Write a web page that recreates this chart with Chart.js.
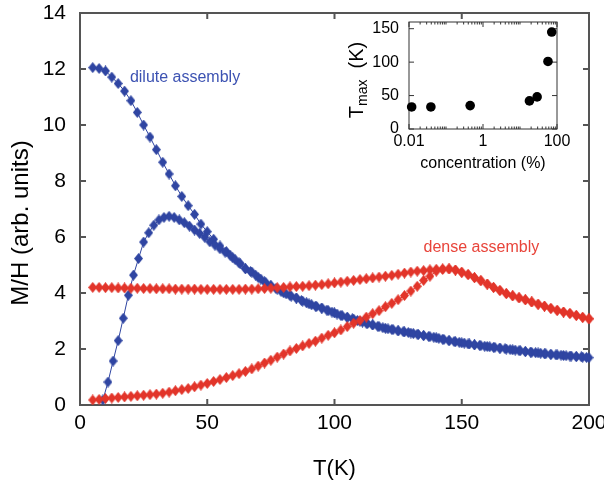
<!DOCTYPE html>
<html>
<head>
<meta charset="utf-8">
<script src="https://cdn.jsdelivr.net/npm/chart.js@4.4.1/dist/chart.umd.min.js"></script>
<style>
  body { margin: 0; background: #fff; }
  #wrap { position: relative; width: 604px; height: 482px; }
  #mainChart { position: absolute; left: 0; top: 0; }
  #insetChart { position: absolute; left: 330px; top: 0; }
</style>
</head>
<body>
<div id="wrap">
  <canvas id="mainChart" width="604" height="482"></canvas>
  <canvas id="insetChart" width="270" height="190"></canvas>
</div>
<script>
// temperature grids (K)
var tempStep25 = [5,7.5,10,12.5,15,17.5,20,22.5,25,27.5,30,32.5,35,37.5,40,42.5,45,47.5,50,52.5,55,57.5,60,62.5,65,67.5,70,72.5,75,77.5,80,82.5,85,87.5,90,92.5,95,97.5,100,102.5,105,107.5,110,112.5,115,117.5,120,122.5,125,127.5,130,132.5,135,137.5,140,142.5,145,147.5,150,152.5,155,157.5,160,162.5,165,167.5,170,172.5,175,177.5,180,182.5,185,187.5,190,192.5,195,197.5,200];
var tempStep2 = [9,11,13,15,17,19,21,23,25,27,29,31,33,35,37,39,41,43,45,47,49,51,53,55,57,59,61,63,65,67,69,71,73,75,77,79,81,83,85,87,89,91,93,95,97,99,101,103,105,107,109,111,113,115,117,119,121,123,125,127,129,131,133,135,137,139,141,143,145,147,149,151,153,155,157,159,161,163,165,167,169,171,173,175,177,179,181,183,185,187,189,191,193,195,197,199];

// dilute assembly
var diluteFC = [12.05,12.02,11.93,11.71,11.48,11.21,10.87,10.45,10.00,9.57,9.12,8.67,8.25,7.83,7.45,7.12,6.81,6.46,6.19,5.92,5.68,5.48,5.26,5.08,4.87,4.75,4.56,4.40,4.26,4.14,4.01,3.91,3.82,3.71,3.61,3.53,3.46,3.37,3.29,3.20,3.13,3.07,2.99,2.92,2.86,2.80,2.74,2.70,2.65,2.61,2.57,2.53,2.48,2.44,2.40,2.35,2.30,2.26,2.22,2.18,2.15,2.12,2.09,2.06,2.03,2.00,1.97,1.94,1.91,1.88,1.86,1.83,1.81,1.79,1.77,1.75,1.73,1.71,1.69];
var diluteZFC = [0.18,0.82,1.57,2.30,3.10,3.92,4.64,5.23,5.82,6.15,6.42,6.61,6.70,6.74,6.70,6.61,6.51,6.39,6.25,6.13,5.99,5.83,5.71,5.58,5.46,5.35,5.19,5.04,4.87,4.77,4.64,4.50,4.37,4.26,4.16,4.06,3.97,3.89,3.82,3.73,3.65,3.58,3.52,3.46,3.39,3.32,3.25,3.19,3.13,3.08,3.02,2.96,2.91,2.86,2.81,2.76,2.72,2.69,2.65,2.62,2.59,2.55,2.52,2.48,2.45,2.42,2.38,2.34,2.30,2.27,2.24,2.21,2.18,2.15,2.13,2.10,2.08,2.06,2.03,2.01,1.98,1.96,1.94,1.91,1.89,1.87,1.85,1.83,1.81,1.79,1.78,1.76,1.75,1.73,1.72,1.70];

// dense assembly
var denseFC = [4.20,4.20,4.19,4.19,4.18,4.18,4.17,4.17,4.16,4.16,4.15,4.15,4.15,4.14,4.14,4.14,4.14,4.13,4.13,4.13,4.13,4.13,4.13,4.13,4.14,4.14,4.15,4.16,4.17,4.19,4.20,4.22,4.23,4.24,4.26,4.28,4.30,4.33,4.36,4.39,4.42,4.45,4.48,4.51,4.54,4.57,4.60,4.63,4.67,4.71,4.75,4.78,4.80,4.83,4.85,4.86,4.86,4.82,4.74,4.66,4.55,4.44,4.32,4.20,4.09,3.98,3.90,3.83,3.76,3.68,3.60,3.53,3.45,3.38,3.32,3.27,3.20,3.13,3.08];
var denseZFC = [0.18,0.20,0.23,0.25,0.27,0.29,0.31,0.33,0.35,0.37,0.39,0.42,0.46,0.51,0.55,0.59,0.65,0.71,0.77,0.84,0.91,0.98,1.05,1.12,1.20,1.29,1.39,1.50,1.60,1.71,1.82,1.93,2.02,2.11,2.20,2.28,2.39,2.49,2.58,2.68,2.80,2.92,3.02,3.14,3.26,3.37,3.51,3.63,3.76,3.91,4.07,4.24,4.45,4.60,4.78,4.84,4.86,4.82,4.74,4.66,4.55,4.44,4.32,4.20,4.09,3.98,3.90,3.83,3.76,3.68,3.60,3.53,3.45,3.38,3.32,3.27,3.20,3.13,3.08];

// inset: T_max vs concentration
var concentration = [0.0118, 0.039, 0.45, 18, 29, 57, 72];
var tMax = [33, 33, 35, 42, 48, 101, 145];

var xTicksMain = [0, 50, 100, 150, 200];
var yTicksMain = [0, 2, 4, 6, 8, 10, 12, 14];
var xTicksInset = [0.01, 1, 100];
var yTicksInset = [0, 50, 100, 150];

var blue = "#2f45a2";
var red = "#e2352a";
var FONT = "'Liberation Sans', Arial, Helvetica, sans-serif";
Chart.defaults.font.family = FONT;
Chart.defaults.color = "#000";

function pts(xs, ys) {
  return xs.map(function (x, i) { return {x: x, y: ys[i]}; });
}

// slightly tall diamond marker
function diamond(color) {
  var c = document.createElement("canvas");
  c.width = 9; c.height = 11;
  var g = c.getContext("2d");
  g.fillStyle = color;
  g.beginPath();
  g.moveTo(4.5, 0); g.lineTo(9, 5.5); g.lineTo(4.5, 11); g.lineTo(0, 5.5);
  g.closePath();
  g.fill();
  return c;
}

function series(data, color) {
  return {
    data: data,
    borderColor: color,
    backgroundColor: color,
    borderWidth: 1,
    pointStyle: diamond(color),
    pointRadius: 5,
    showLine: true,
    clip: false
  };
}

// frame with inward ticks on all four sides
function framePlugin(opts) {
  return {
    id: "frame",
    beforeDatasetsDraw: function (chart) {
      var ctx = chart.ctx, a = chart.chartArea, x = chart.scales.x, y = chart.scales.y;
      ctx.save();
      ctx.strokeStyle = opts.color;
      ctx.lineWidth = opts.width;
      ctx.strokeRect(a.left, a.top, a.right - a.left, a.bottom - a.top);
      function xt(v, len) {
        var px = x.getPixelForValue(v);
        ctx.beginPath();
        ctx.moveTo(px, a.bottom); ctx.lineTo(px, a.bottom - len);
        ctx.moveTo(px, a.top); ctx.lineTo(px, a.top + len);
        ctx.stroke();
      }
      function yt(v, len) {
        var py = y.getPixelForValue(v);
        ctx.beginPath();
        ctx.moveTo(a.left, py); ctx.lineTo(a.left + len, py);
        ctx.moveTo(a.right, py); ctx.lineTo(a.right - len, py);
        ctx.stroke();
      }
      opts.xMajor.forEach(function (v) { xt(v, opts.len); });
      (opts.xMinor || []).forEach(function (v) { xt(v, opts.len / 2); });
      opts.yMajor.forEach(function (v) { yt(v, opts.len); });
      ctx.restore();
    }
  };
}

var labels = {
  id: "labels",
  afterDatasetsDraw: function (chart) {
    var ctx = chart.ctx, x = chart.scales.x, y = chart.scales.y;
    ctx.save();
    ctx.font = "16px " + FONT;
    ctx.textBaseline = "middle";
    ctx.fillStyle = "#3c52b2";
    ctx.fillText("dilute assembly", x.getPixelForValue(19.6), y.getPixelForValue(11.68));
    ctx.fillStyle = "#e8443a";
    ctx.fillText("dense assembly", x.getPixelForValue(135), y.getPixelForValue(5.62));
    // y axis title
    ctx.fillStyle = "#000";
    ctx.translate(21, 223);
    ctx.rotate(-Math.PI / 2);
    ctx.textAlign = "center";
    ctx.font = "24px " + FONT;
    ctx.fillText("M/H (arb. units)", 0, 0);
    ctx.restore();
  }
};

new Chart("mainChart", {
  type: "scatter",
  data: {
    datasets: [
      series(pts(tempStep25, denseZFC), red),
      series(pts(tempStep25, denseFC), red),
      series(pts(tempStep2, diluteZFC), blue),
      series(pts(tempStep25, diluteFC), blue)
    ]
  },
  options: {
    responsive: false,
    animation: false,
    layout: {padding: {top: 13, right: 15, left: 0, bottom: 0}},
    plugins: {legend: {display: false}, tooltip: {enabled: false}},
    scales: {
      x: {
        type: "linear", min: 0, max: 200,
        afterBuildTicks: function (s) { s.ticks = xTicksMain.map(function (v) { return {value: v}; }); },
        ticks: {font: {size: 21}, padding: 6, maxRotation: 0},
        grid: {display: false, drawTicks: false},
        border: {display: false},
        title: {display: true, text: "T(K)", font: {size: 22}, padding: {top: 0, bottom: 0}},
        afterFit: function (s) { s.height = 77; s.paddingLeft = 0; s.paddingRight = 0; }
      },
      y: {
        min: 0, max: 14,
        afterBuildTicks: function (s) { s.ticks = yTicksMain.map(function (v) { return {value: v}; }); },
        ticks: {font: {size: 21}, padding: 14},
        grid: {display: false, drawTicks: false},
        border: {display: false},
        afterFit: function (s) { s.width = 80; s.paddingTop = 0; s.paddingBottom = 0; }
      }
    }
  },
  plugins: [framePlugin({color: "#555", width: 2, len: 6, xMajor: xTicksMain, yMajor: yTicksMain}), labels]
});

// inset
var minorLog = [];
[0.01, 0.1, 1, 10].forEach(function (d) {
  for (var m = 2; m <= 9; m++) minorLog.push(m * d);
});
minorLog.push(0.1, 10);

var insetTitle = {
  id: "insetTitle",
  afterDraw: function (chart) {
    var ctx = chart.ctx;
    ctx.save();
    ctx.translate(26, 80);
    ctx.rotate(-Math.PI / 2);
    ctx.fillStyle = "#000";
    ctx.textBaseline = "alphabetic";
    ctx.textAlign = "left";
    var big = "20px " + FONT;
    var small = "14px " + FONT;
    ctx.font = big;
    var wT = ctx.measureText("T").width;
    ctx.font = small;
    var wS = ctx.measureText("max").width;
    ctx.font = big;
    var wK = ctx.measureText("  (K)").width;
    var x0 = -(wT + wS + wK) / 2;
    ctx.fillText("T", x0, 7);
    ctx.font = small;
    ctx.fillText("max", x0 + wT, 11);
    ctx.font = big;
    ctx.fillText("  (K)", x0 + wT + wS, 7);
    ctx.restore();
  }
};

new Chart("insetChart", {
  type: "scatter",
  data: {
    datasets: [{
      data: pts(concentration, tMax),
      backgroundColor: "#000",
      borderColor: "#000",
      pointRadius: 4.8,
      pointBorderWidth: 0,
      clip: false
    }]
  },
  options: {
    responsive: false,
    animation: false,
    layout: {padding: {top: 22, right: 43, left: 0, bottom: 0}},
    plugins: {legend: {display: false}, tooltip: {enabled: false}},
    scales: {
      x: {
        type: "logarithmic", min: 0.01, max: 100,
        afterBuildTicks: function (s) { s.ticks = xTicksInset.map(function (v) { return {value: v}; }); },
        ticks: {font: {size: 16}, padding: 3, maxRotation: 0, autoSkip: false,
          callback: function (v) { return String(v); }},
        grid: {display: false, drawTicks: false},
        border: {display: false},
        title: {display: true, text: "concentration (%)", font: {size: 16}, padding: {top: 0, bottom: 17}},
        afterFit: function (s) { s.height = 61; s.paddingLeft = 0; s.paddingRight = 0; }
      },
      y: {
        min: 0, max: 160,
        afterBuildTicks: function (s) { s.ticks = yTicksInset.map(function (v) { return {value: v}; }); },
        ticks: {font: {size: 16}, padding: 10},
        grid: {display: false, drawTicks: false},
        border: {display: false},
        afterFit: function (s) { s.width = 79; s.paddingTop = 0; s.paddingBottom = 0; }
      }
    }
  },
  plugins: [framePlugin({color: "#333", width: 1, len: 5, xMajor: xTicksInset, xMinor: minorLog, yMajor: yTicksInset}), insetTitle]
});
</script>
</body>
</html>
